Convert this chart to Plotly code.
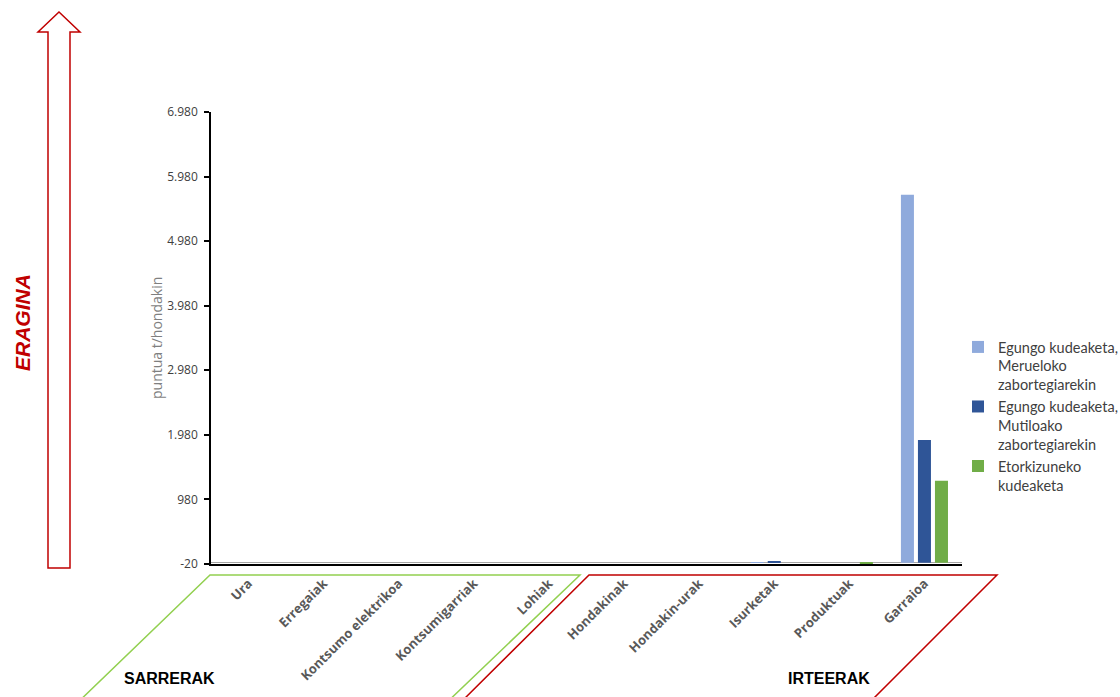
import plotly.graph_objects as go

# Categories (inputs then outputs)
categories = ["Ura", "Erregaiak", "Kontsumo elektrikoa", "Kontsumigarriak", "Lohiak",
              "Hondakinak", "Hondakin-urak", "Isurketak", "Produktuak", "Garraioa"]

series_names = [
    "Egungo kudeaketa,<br>Merueloko<br>zabortegiarekin",
    "Egungo kudeaketa,<br>Mutiloako<br>zabortegiarekin",
    "Etorkizuneko<br>kudeaketa",
]
merueloko = [0, 0, 0, 0, 0, 0, 0, 5, 0, 5700]
mutiloako = [0, 0, 0, 0, 0, 0, 0, 18, 0, 1900]
etorkizuneko = [0, 0, 0, 0, 0, 0, 0, 0, -22, 1270]
series_values = [merueloko, mutiloako, etorkizuneko]
series_colors = ["#8FAADC", "#2F5597", "#70AD47"]

y_tickvals = [-20, 980, 1980, 2980, 3980, 4980, 5980, 6980]
y_ticktext = ["-20", "980", "1.980", "2.980", "3.980", "4.980", "5.980", "6.980"]

W, H = 1120, 697
L, R, T, B = 211, 158, 112, 133
PW, PH = W - L - R, H - T - B


def px(x, y):
    """Convert page pixels to paper coordinates."""
    return (x - L) / PW, (H - B - y) / PH


fig = go.Figure()
for name, vals, col in zip(series_names, series_values, series_colors):
    fig.add_trace(go.Bar(x=categories, y=vals, name=name, marker_color=col,
                         marker_line_width=0))

shapes = []


def poly(points, color, width=1.5, fill=None):
    parts = []
    for i, (x, y) in enumerate(points):
        a, b = px(x, y)
        parts.append(("M" if i == 0 else "L") + f"{a:.5f},{b:.5f}")
    path = " ".join(parts)
    if fill:
        path += " Z"
    shapes.append(dict(type="path", xref="paper", yref="paper", path=path,
                       line=dict(color=color, width=width),
                       fillcolor=fill if fill else "rgba(0,0,0,0)", layer="above"))


# Input bracket (green) and output bracket (red)
poly([(72, 708), (210, 575), (580, 575), (441, 708)], "#92D050")
poly([(455, 708), (589, 575), (997, 575), (864, 708)], "#C00000")
# Impact arrow
poly([(48, 568), (48, 32), (38, 32), (59, 12), (80, 32), (70, 32), (70, 568)],
     "#C00000", 1.5, fill="#FFFFFF")

annotations = []


def note(x, y, text, **kw):
    a, b = px(x, y)
    annotations.append(dict(x=a, y=b, xref="paper", yref="paper", text=text,
                            showarrow=False, xanchor="center", yanchor="middle", **kw))


note(22, 323, "<b><i>ERAGINA</i></b>", textangle=-90,
     font=dict(family="Liberation Sans, Arial", size=21, color="#C00000"))
note(156, 338, "puntua t/hondakin", textangle=-90,
     font=dict(family="Open Sans", size=14, color="#7F7F7F"))
note(169, 678, "<b>SARRERAK</b>",
     font=dict(family="Liberation Sans, Arial", size=16, color="#000000"))
note(829, 678, "<b>IRTEERAK</b>",
     font=dict(family="Liberation Sans, Arial", size=16, color="#000000"))

fig.update_layout(
    width=W, height=H,
    margin=dict(l=L, r=R, t=T, b=B, pad=0, autoexpand=False),
    paper_bgcolor="white", plot_bgcolor="white",
    barmode="group", bargap=0.32, bargroupgap=0.235,
    shapes=shapes, annotations=annotations,
    showlegend=True,
    legend=dict(x=px(958, 0)[0], y=px(0, 331)[1], xanchor="left", yanchor="top",
                font=dict(family="Lato", size=14.5, color="#404040"),
                valign="top", itemwidth=30, bgcolor="rgba(0,0,0,0)"),
    xaxis=dict(
        type="category", showgrid=False, zeroline=False,
        showline=True, linecolor="#000000", linewidth=1.5,
        ticks="", tickangle=-45, ticklabelstandoff=5,
        tickfont=dict(family="Open Sans", size=13, color="#595959", weight="bold"),
    ),
    yaxis=dict(
        range=[-20, 6980], showgrid=False,
        zeroline=True, zerolinecolor="#A6A6A6", zerolinewidth=1,
        showline=True, linecolor="#000000", linewidth=1.5,
        ticks="outside", ticklen=5, tickcolor="#000000", tickwidth=1.5,
        tickvals=y_tickvals, ticktext=y_ticktext, ticklabelstandoff=4,
        tickfont=dict(family="Open Sans", size=12, color="#404040"),
    ),
)

fig.write_html("out.html")
